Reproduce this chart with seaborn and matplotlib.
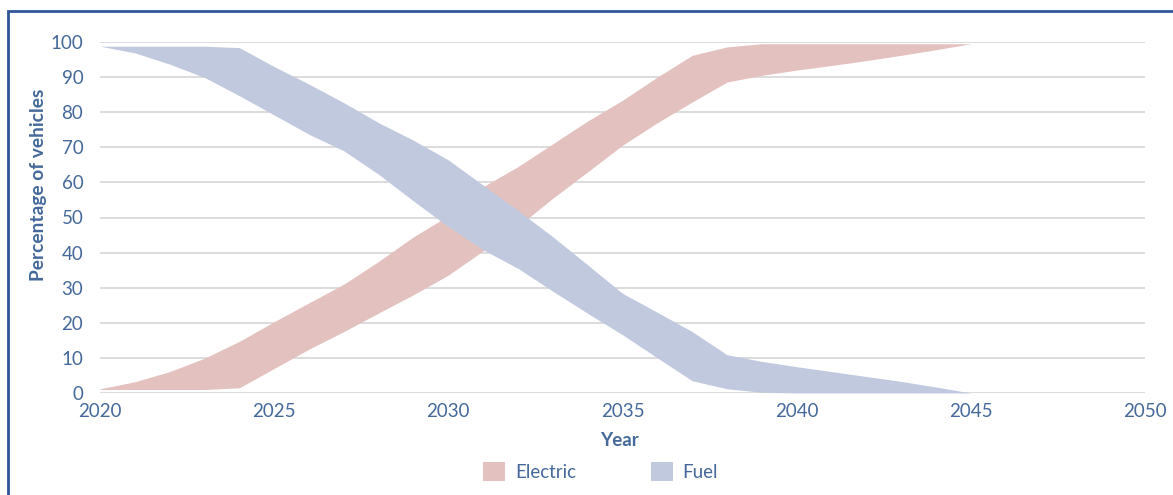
import matplotlib
matplotlib.use("Agg")
import matplotlib.pyplot as plt
from matplotlib.patches import Patch, Rectangle
import seaborn as sns
import pandas as pd

years = list(range(2020, 2046))

electric_low = [1, 1, 1, 1, 1.5, 7, 12.5, 17.5, 22.8, 28, 33.6, 40.5, 47.5, 55.5, 63, 70.6,
                77, 82.9, 88.6, 90.5, 92, 93.3, 94.7, 96.2, 97.8, 99.5]
electric_high = [1.2, 3.2, 6.1, 9.9, 14.7, 20.3, 25.7, 31, 37.5, 44.5, 50.5, 58.8, 64.5, 71, 77.5, 83.4,
                 90, 96.2, 98.6, 99.5, 99.5, 99.5, 99.5, 99.5, 99.5, 99.5]
fuel_low = [98.8, 96.9, 93.7, 89.9, 84.7, 79.2, 73.7, 69, 62.3, 54.7, 47.4, 40.8, 35.5, 29, 22.7, 16.6,
            10, 3.5, 1.2, 0.2, 0, 0, 0, 0, 0, 0]
fuel_high = [98.8, 98.8, 98.8, 98.8, 98.4, 93, 88, 82.7, 77, 72, 66.4, 59.2, 52, 44.5, 36.5, 28.4,
             23, 17.5, 10.9, 9.0, 7.5, 6.1, 4.7, 3.3, 1.7, 0]

series_names = ["Electric", "Fuel"]
colors = ["#E3C1BF", "#C1C9DE"]
x_ticks = [2020, 2025, 2030, 2035, 2040, 2045, 2050]
y_ticks = list(range(0, 101, 10))

df = pd.DataFrame({"year": years, "e_lo": electric_low, "e_hi": electric_high,
                   "f_lo": fuel_low, "f_hi": fuel_high})

sns.set_theme(style="white")
plt.rcParams['font.family'] = ['Lato', 'DejaVu Sans']
text_color = "#44699A"

fig = plt.figure(figsize=(11.73, 4.95), dpi=100)
ax = fig.add_axes([100 / 1173, 1 - 393 / 495, 1045 / 1173, 351 / 495])

ax.fill_between(df["year"], df["e_lo"], df["e_hi"], color=colors[0], linewidth=0, zorder=2)
ax.fill_between(df["year"], df["f_lo"], df["f_hi"], color=colors[1], linewidth=0, zorder=3)

ax.set_xlim(2020, 2050)
ax.set_ylim(0, 100)
ax.set_xticks(x_ticks)
ax.set_yticks(y_ticks)
ax.grid(axis="y", color="#D9D9D9", linewidth=1.3, zorder=1)
ax.grid(axis="x", visible=False)
ax.set_axisbelow(True)
sns.despine(ax=ax, left=True, bottom=True, top=True, right=True)
ax.tick_params(axis="both", length=0, labelsize=13.5, labelcolor=text_color)
ax.tick_params(axis="y", pad=12)
ax.tick_params(axis="x", pad=7)

ax.set_xlabel("Year", fontsize=13.5, fontweight="bold", color=text_color)
ax.xaxis.set_label_coords(0.497, -0.112)
ax.set_ylabel("Percentage of vehicles", fontsize=13.8, fontweight="bold", color=text_color)
ax.yaxis.set_label_coords(-0.051, 0.593)

handles = [Patch(facecolor=c, edgecolor="none", label=n) for c, n in zip(colors, series_names)]
leg = fig.legend(handles=handles, loc="center", bbox_to_anchor=(0.512, 0.048), ncol=2,
                 frameon=False, fontsize=13.5, handlelength=1.2, handleheight=1.2,
                 handletextpad=0.5, columnspacing=4.0)
for t in leg.get_texts():
    t.set_color(text_color)

# figure frame (left and top edges visible)
fig.patches.append(Rectangle((8 / 1173, -0.05), 1.2, 1 - 11 / 495 + 0.05, transform=fig.transFigure,
                             fill=False, edgecolor="#2F5597", linewidth=2, zorder=10))

fig.savefig("out.png", dpi=100)
